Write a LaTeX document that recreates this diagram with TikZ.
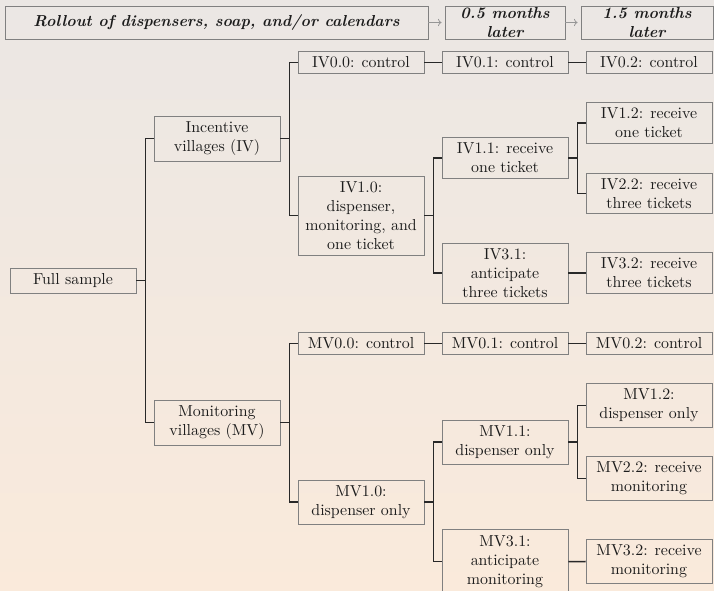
\documentclass[tikz,border=0pt]{standalone}
\usetikzlibrary{arrows.meta}
\definecolor{bgtop}{RGB}{235,231,228}
\definecolor{bgbot}{RGB}{250,234,219}
\definecolor{boxline}{RGB}{128,128,128}
\definecolor{connline}{RGB}{40,40,40}
\definecolor{txt}{RGB}{28,28,28}
\definecolor{arrgray}{RGB}{150,150,150}
\newdimen\pxu \pxu=0.629pt
\begin{document}
\begin{tikzpicture}[x=\pxu,y=-\pxu,
  tbox/.style={draw=boxline, line width=0.6pt, align=center, inner sep=0pt,
    minimum width=126\pxu, text=txt},
  hbox/.style={tbox, font=\bfseries\itshape, minimum height=33\pxu},
  conn/.style={draw=connline, line width=0.95pt},
  harr/.style={draw=arrgray, line width=0.5pt, -{To[length=2.2pt,width=4.5pt]}, shorten >=3\pxu}]
\useasboundingbox (0,0) rectangle (714,591);
\shade[top color=bgtop, bottom color=bgbot] (0,0) rectangle (714,591);

% header
\node[hbox, minimum width=423\pxu] (h1) at (216.5,22.5) {Rollout of dispensers, soap, and/or calendars};
\node[hbox, minimum width=120\pxu] (h2) at (505,22.5) {0.5 months\\later};
\node[hbox, minimum width=132\pxu] (h3) at (647,22.5) {1.5 months\\later};
\draw[harr] (h1.east) -- (h2.west);
\draw[harr] (h2.east) -- (h3.west);

% column 0 and 1
\node[tbox, minimum height=25\pxu] (full) at (73,280.5) {Full sample};
\node[tbox, minimum height=45\pxu] (iv) at (217,138.5) {Incentive\\villages (IV)};
\node[tbox, minimum height=45\pxu] (mv) at (217,422.5) {Monitoring\\villages (MV)};

% incentive branch
\node[tbox, minimum height=22\pxu] (iv00) at (361,62.5) {IV0.0: control};
\node[tbox, minimum height=79\pxu] (iv10) at (361,215.5) {IV1.0:\\dispenser,\\monitoring, and\\one ticket};
\node[tbox, minimum height=22\pxu] (iv01) at (505,62.5) {IV0.1: control};
\node[tbox, minimum height=40.5\pxu] (iv11) at (505,158) {IV1.1: receive\\one ticket};
\node[tbox, minimum height=60\pxu] (iv31) at (505,273) {IV3.1:\\anticipate\\three tickets};
\node[tbox, minimum height=22\pxu] (iv02) at (649,62.5) {IV0.2: control};
\node[tbox, minimum height=40.5\pxu] (iv12) at (649,123) {IV1.2: receive\\one ticket};
\node[tbox, minimum height=40\pxu] (iv22) at (649,193.3) {IV2.2: receive\\three tickets};
\node[tbox, minimum height=40.5\pxu] (iv32) at (649,273) {IV3.2: receive\\three tickets};

% monitoring branch
\node[tbox, minimum height=22\pxu] (mv00) at (361,343.5) {MV0.0: control};
\node[tbox, minimum height=44\pxu] (mv10) at (361,502) {MV1.0:\\dispenser only};
\node[tbox, minimum height=22\pxu] (mv01) at (505,343.5) {MV0.1: control};
\node[tbox, minimum height=44\pxu] (mv11) at (505,442) {MV1.1:\\dispenser only};
\node[tbox, minimum height=63.5\pxu] (mv31) at (505,561.7) {MV3.1:\\anticipate\\monitoring};
\node[tbox, minimum height=22\pxu] (mv02) at (649,343.5) {MV0.2: control};
\node[tbox, minimum height=44\pxu] (mv12) at (649,405.3) {MV1.2:\\dispenser only};
\node[tbox, minimum height=44\pxu] (mv22) at (649,478.5) {MV2.2: receive\\monitoring};
\node[tbox, minimum height=44\pxu] (mv32) at (649,561.5) {MV3.2: receive\\monitoring};

% connectors
\draw[conn] (full.east) -- ++(9,0) |- (iv.west);
\draw[conn] (full.east) -- ++(9,0) |- (mv.west);
\draw[conn] (iv.east) -- ++(9,0) |- (iv00.west);
\draw[conn] (iv.east) -- ++(9,0) |- (iv10.west);
\draw[conn] (iv00.east) -- (iv01.west);
\draw[conn] (iv01.east) -- (iv02.west);
\draw[conn] (iv10.east) -- ++(9,0) |- (iv11.west);
\draw[conn] (iv10.east) -- ++(9,0) |- (iv31.west);
\draw[conn] (iv11.east) -- ++(9,0) |- (iv12.west);
\draw[conn] (iv11.east) -- ++(9,0) |- (iv22.west);
\draw[conn] (iv31.east) -- (iv32.west);
\draw[conn] (mv.east) -- ++(9,0) |- (mv00.west);
\draw[conn] (mv.east) -- ++(9,0) |- (mv10.west);
\draw[conn] (mv00.east) -- (mv01.west);
\draw[conn] (mv01.east) -- (mv02.west);
\draw[conn] (mv10.east) -- ++(9,0) |- (mv11.west);
\draw[conn] (mv10.east) -- ++(9,0) |- (mv31.west);
\draw[conn] (mv11.east) -- ++(9,0) |- (mv12.west);
\draw[conn] (mv11.east) -- ++(9,0) |- (mv22.west);
\draw[conn] (mv31.east) -- (mv32.west);
\end{tikzpicture}
\end{document}
